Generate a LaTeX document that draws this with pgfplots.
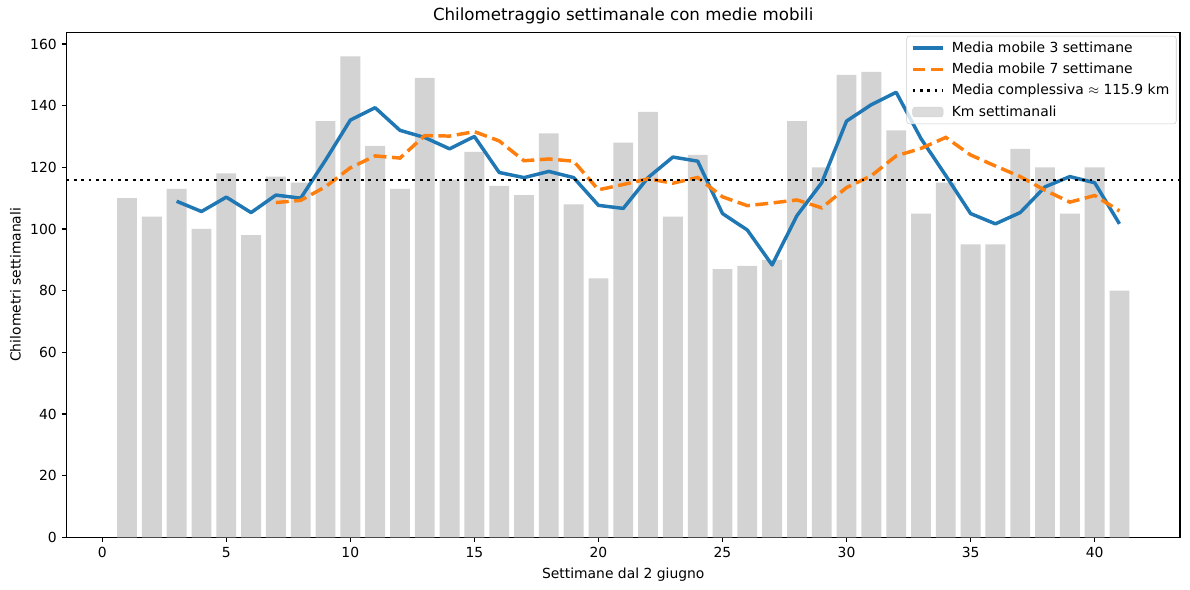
\documentclass[border=0pt]{standalone}
\usepackage{fontspec}
\setmainfont{DejaVu Sans}
\usepackage{pgfplots}
\pgfplotsset{compat=1.18}
\usepackage{pgfplotstable}
\definecolor{barc}{HTML}{D3D3D3}
\definecolor{mplblue}{HTML}{1F77B4}
\definecolor{mplorange}{HTML}{FF7F0E}
\definecolor{legframe}{HTML}{CCCCCC}

\pgfplotstableread{
w km
1 110
2 104
3 113
4 100
5 118
6 98
7 117
8 115
9 135
10 156
11 127
12 113
13 149
14 116
15 125
16 114
17 111
18 131
19 108
20 84
21 128
22 138
23 104
24 124
25 87
26 88
27 90
28 135
29 120
30 150
31 151
32 132
33 105
34 115
35 95
36 95
37 126
38 120
39 105
40 120
41 80
}\kmdata

\pgfplotstableread{
w ma
3 109.00
4 105.67
5 110.33
6 105.33
7 111.00
8 110.00
9 122.33
10 135.33
11 139.33
12 132.00
13 129.67
14 126.00
15 130.00
16 118.33
17 116.67
18 118.67
19 116.67
20 107.67
21 106.67
22 116.67
23 123.33
24 122.00
25 105.00
26 99.67
27 88.33
28 104.33
29 115.00
30 135.00
31 140.33
32 144.33
33 129.33
34 117.33
35 105.00
36 101.67
37 105.33
38 113.67
39 117.00
40 115.00
41 101.67
}\mathree

\pgfplotstableread{
w ma
7 108.57
8 109.29
9 113.71
10 119.86
11 123.71
12 123.00
13 130.29
14 130.14
15 131.57
16 128.57
17 122.14
18 122.71
19 122.00
20 112.71
21 114.43
22 116.29
23 114.86
24 116.71
25 110.43
26 107.57
27 108.43
28 109.43
29 106.86
30 113.43
31 117.29
32 123.71
33 126.14
34 129.71
35 124.00
36 120.43
37 117.00
38 112.57
39 108.71
40 110.86
41 105.86
}\maseven

\begin{document}
\begin{tikzpicture}
\begin{axis}[
  name=ax,
  scale only axis,
  width=801.72pt, height=363.6pt,
  xmin=-1.44, xmax=43.44,
  ymin=0, ymax=163.8,
  xtick={0,5,...,40},
  ytick={0,20,...,160},
  tick align=outside,
  tick pos=left,
  major tick length=3.5pt,
  every tick/.style={black, line width=0.8pt},
  axis line style={line width=0.8pt},
  /pgf/number format/assume math mode=true,
  ticklabel style={font=\fontsize{10}{12}\selectfont},
  title={Chilometraggio settimanale con medie mobili},
  title style={font=\fontsize{12}{14}\selectfont, at={(axis description cs:0.5,1)}, anchor=base, yshift=2.7pt},
  xlabel={Settimane dal 2 giugno},
  xlabel style={font=\fontsize{10}{12}\selectfont, at={(axis description cs:0.5,0)}, anchor=base, yshift=-29.5pt},
  ylabel={Chilometri settimanali},
  ylabel style={font=\fontsize{10}{12}\selectfont, at={(axis description cs:0,0.5)}, anchor=base, yshift=33pt},
  legend style={
    at={(axis description cs:1,1)}, anchor=north east,
    xshift=-2.5pt, yshift=-2.5pt,
    draw=legframe, rounded corners=2pt, fill=white, fill opacity=0.8, text opacity=1,
    font=\fontsize{10}{12}\selectfont,
    inner xsep=3pt, inner ysep=2pt,
    row sep=2.3pt,
    cells={anchor=west},
    /tikz/every odd column/.append style={column sep=3pt},
  },
  legend image code/.code={\draw[#1] (0pt,0pt) -- (22pt,0pt);},
]
\addplot[ybar, bar width=0.8, bar shift=0pt, fill=barc, draw=none, forget plot] table[x=w, y=km] {\kmdata};
\addplot[mplblue, line width=2.5pt, line join=round] table[x=w, y=ma] {\mathree};
\addlegendentry{Media mobile 3 settimane}
\addplot[mplorange, line width=2.5pt, dash pattern=on 9.25pt off 4pt] table[x=w, y=ma] {\maseven};
\addlegendentry{Media mobile 7 settimane}
\addplot[black, line width=2pt, dash pattern=on 2pt off 3.3pt] coordinates {(-1.44,115.9) (43.44,115.9)};
\addlegendentry{Media complessiva $\approx$ 115.9 km}
\addlegendimage{legend image code/.code={\fill[barc] (0pt,-3.5pt) rectangle (22pt,3.5pt);}}
\addlegendentry{Km settimanali}
\end{axis}
\path[draw=none] ([xshift=-47.88pt, yshift=-37.94pt]ax.south west) rectangle ([xshift=808.92pt, yshift=386.86pt]ax.south west);
\end{tikzpicture}
\end{document}
